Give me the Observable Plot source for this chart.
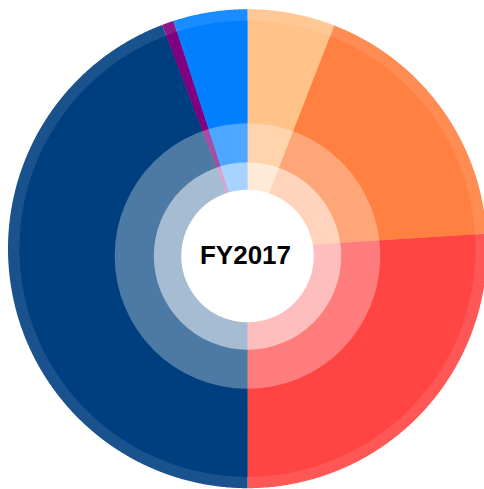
<!DOCTYPE html>
<html>
<head>
<meta charset="utf-8">
<script src="https://cdn.jsdelivr.net/npm/d3@7"></script>
<script src="https://cdn.jsdelivr.net/npm/@observablehq/plot@0.6"></script>
<style>
  html, body { margin: 0; padding: 0; background: #ffffff; }
  #chart svg { display: block; }
</style>
</head>
<body>
<div id="chart"></div>
<script>
// ---- Data ----
const categories = ["Category A", "Category B", "Category C", "Category D", "Category E", "Category F"];
const shares = [5.9, 18.1, 26.0, 44.2, 0.8, 5.0]; // percent of total, clockwise from top
const colors = ["#ffc288", "#ff8040", "#ff4444", "#003f7f", "#800080", "#0080ff"];
const centerLabel = "FY2017";

// ---- Layout ----
const W = 484, H = 489;
const outer = {cx: 247, cy: 248.2, r: 239.5, rBand: 228};
const inner = {cx: 247, cy: 255.5};
const overlays = [
  {r: 132.8, opacity: 0.3},
  {r: 93.7, opacity: 0.5},
  {r: 66.3, opacity: 1}
];

const rows = categories.map((c, i) => ({category: c, share: shares[i], color: colors[i]}));
const arcs = d3.pie().sort(null).value(d => d.share)(rows);

function sectorPoints(r, cx, cy, layer) {
  const pts = [];
  for (const a of arcs) {
    const key = layer + "-" + a.data.category;
    const color = a.data.color;
    pts.push({key, color, x: cx, y: cy});
    const n = Math.max(2, Math.ceil((a.endAngle - a.startAngle) / (Math.PI / 720)));
    for (let k = 0; k <= n; k++) {
      const t = a.startAngle + (a.endAngle - a.startAngle) * k / n;
      pts.push({key, color, x: cx + r * Math.sin(t), y: cy - r * Math.cos(t)});
    }
    pts.push({key, color, x: cx, y: cy});
  }
  return pts;
}

const bandPts = sectorPoints(outer.r, outer.cx, outer.cy, "band");
const mainPts = sectorPoints(outer.rBand, outer.cx, outer.cy, "main");

const chart = Plot.plot({
  width: W,
  height: H,
  margin: 0,
  x: {domain: [0, W], range: [0, W], axis: null},
  y: {domain: [0, H], range: [0, H], axis: null},
  color: {type: "identity"},
  marks: [
    Plot.line(bandPts, {x: "x", y: "y", z: "key", fill: "color", fillOpacity: 0.9, stroke: "none", curve: "linear"}),
    Plot.line(mainPts, {x: "x", y: "y", z: "key", fill: "color", stroke: "none", curve: "linear"}),
    ...overlays.map(o => Plot.dot([o], {x: () => inner.cx, y: () => inner.cy, r: o.r, fill: "white", fillOpacity: o.opacity, stroke: "none"})),
    Plot.text([centerLabel], {
      x: () => inner.cx, y: () => inner.cy, text: d => d, dx: -2,
      fontSize: 26, fontWeight: "bold", fill: "#000",
      fontFamily: "'Liberation Sans', Arial, Helvetica, sans-serif"
    })
  ]
});

document.getElementById("chart").appendChild(chart);
</script>
</body>
</html>
